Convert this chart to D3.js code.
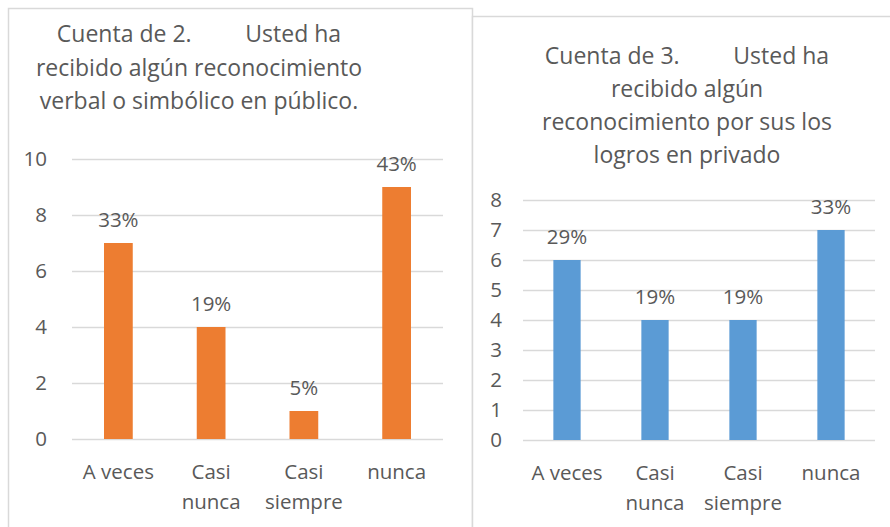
<!DOCTYPE html>
<html><head><meta charset="utf-8">
<script src="https://cdn.jsdelivr.net/npm/d3@7"></script>
<style>body{margin:0;background:#fff}svg{display:block;font-family:"Open Sans",sans-serif}</style>
</head><body><svg id="c" width="890" height="527"></svg>
<script>
const categories = ["A veces", "Casi nunca", "Casi siempre", "nunca"];
const catLines = [["A veces"], ["Casi", "nunca"], ["Casi", "siempre"], ["nunca"]];
const values1 = [7, 4, 1, 9];
const labels1 = ["33%", "19%", "5%", "43%"];
const ticks1 = [0, 2, 4, 6, 8, 10];
const title1 = ["Cuenta de 2.\u00a0\u00a0\u00a0\u00a0\u00a0\u00a0\u00a0\u00a0 Usted ha", "recibido algún reconocimiento", "verbal o simbólico en público."];
const values2 = [6, 4, 4, 7];
const labels2 = ["29%", "19%", "19%", "33%"];
const ticks2 = [0, 1, 2, 3, 4, 5, 6, 7, 8];
const title2 = ["Cuenta de 3.\u00a0\u00a0\u00a0\u00a0\u00a0\u00a0\u00a0\u00a0 Usted ha", "recibido algún", "reconocimiento por sus los", "logros en privado"];

const svg = d3.select("#c");
const txt = "#595959", grid = "#D9D9D9";
const fs = 20.5;

function chart(o) {
  const g = svg.append("g");
  g.append("rect").attr("x", o.box[0] + 0.5).attr("y", o.box[1] + 0.5)
    .attr("width", o.box[2]).attr("height", o.box[3])
    .attr("fill", "#fff").attr("stroke", grid).attr("stroke-width", 1.5);
  o.title.forEach((t, i) => g.append("text").attr("x", o.tx).attr("y", o.ty + i * o.tdy)
    .attr("text-anchor", "middle").attr("dominant-baseline", "central")
    .attr("font-size", o.tfs).attr("fill", txt).text(t));
  const x = d3.scaleBand().domain(categories).range([o.x0, o.x1]).paddingInner(0.69).paddingOuter(0.345);
  const y = d3.scaleLinear().domain([0, o.ymax]).range([o.y0, o.y1]);
  const ga = g.append("g").attr("transform", `translate(${o.x0},0)`)
    .call(d3.axisLeft(y).tickValues(o.ticks).tickSize(-(o.x1 - o.x0)).tickPadding(o.tpad));
  ga.select(".domain").remove();
  ga.selectAll("line").attr("stroke", grid).attr("stroke-width", 1.3);
  ga.selectAll("text").attr("fill", txt).attr("font-size", fs).attr("font-family", '"Open Sans",sans-serif');
  g.selectAll(".bar").data(o.values).join("rect")
    .attr("x", (d, i) => x(categories[i])).attr("width", x.bandwidth())
    .attr("y", d => y(d)).attr("height", d => y(0) - y(d)).attr("fill", o.color);
  g.selectAll(".lbl").data(o.values).join("text")
    .attr("x", (d, i) => x(categories[i]) + x.bandwidth() / 2).attr("y", d => y(d) - 24)
    .attr("text-anchor", "middle").attr("dominant-baseline", "central")
    .attr("font-size", fs).attr("fill", txt).text((d, i) => o.labels[i]);
  catLines.forEach((ls, i) => ls.forEach((l, j) => g.append("text")
    .attr("x", x(categories[i]) + x.bandwidth() / 2).attr("y", o.cy + j * 30)
    .attr("text-anchor", "middle").attr("dominant-baseline", "central")
    .attr("font-size", fs).attr("fill", txt).text(l)));
}

chart({box: [8, 8, 464, 540], title: title1, tx: 199, ty: 33, tdy: 33.5, tfs: 23,
  x0: 72, x1: 443, y0: 439, y1: 159, ymax: 10, ticks: ticks1, tpad: 25,
  values: values1, labels: labels1, color: "#ED7D31", cy: 471});
chart({box: [472, 16, 430, 540], title: title2, tx: 687, ty: 55, tdy: 33, tfs: 23,
  x0: 523, x1: 875, y0: 440, y1: 200, ymax: 8, ticks: ticks2, tpad: 21,
  values: values2, labels: labels2, color: "#5B9BD5", cy: 472});
</script></body></html>
